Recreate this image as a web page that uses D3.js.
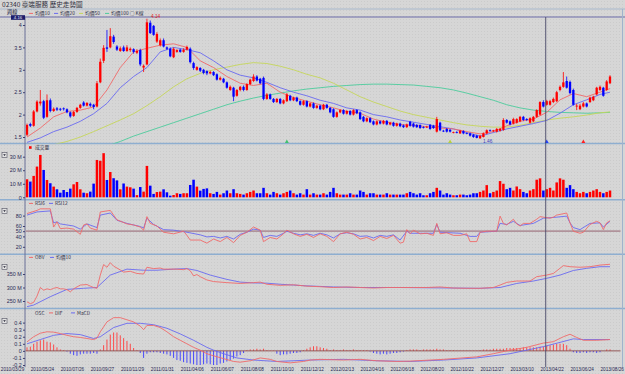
<!DOCTYPE html>
<html><head><meta charset="utf-8">
<script src="https://cdn.jsdelivr.net/npm/d3@7"></script>
<style>body{margin:0;background:#d5d5d5;} svg{display:block;}</style>
</head><body><svg id="c" width="625" height="374"></svg>
<script>
// ---------------- DATA ----------------
const titleText = "02340 臺端服務  歷史走勢圖";
const open = [1.55,1.79,1.75,2.07,2.25,2.30,1.95,2.32,2.08,2.14,2.13,2.14,2.12,2.05,1.97,2.06,2.15,2.27,2.20,2.24,2.22,2.18,2.72,3.20,3.50,3.50,3.74,3.52,3.42,3.50,3.42,3.44,3.46,3.38,3.44,3.05,3.12,4.05,3.98,3.63,3.55,3.66,3.50,3.47,3.28,3.40,3.45,3.40,3.45,3.47,3.15,3.00,3.04,3.00,2.97,2.92,2.95,2.90,2.78,2.80,2.72,2.55,2.60,2.42,2.55,2.62,2.55,2.68,2.75,2.85,2.80,2.82,2.35,2.45,2.35,2.28,2.35,2.25,2.30,2.42,2.32,2.38,2.30,2.22,2.30,2.18,2.25,2.15,2.20,2.12,2.22,2.15,2.12,1.95,2.05,2.10,2.02,2.08,2.00,2.10,2.05,1.95,1.85,1.92,1.85,1.78,1.85,1.80,1.86,1.78,1.82,1.75,1.80,1.76,1.72,1.84,1.80,1.77,1.77,1.72,1.72,1.77,1.75,1.62,1.82,1.64,1.68,1.66,1.60,1.61,1.58,1.63,1.59,1.58,1.55,1.53,1.47,1.50,1.58,1.65,1.63,1.62,1.64,1.66,1.88,1.85,1.80,1.82,1.85,1.95,1.90,1.82,1.85,1.95,2.00,2.28,2.22,2.22,2.28,2.30,2.55,2.62,2.75,2.73,2.55,2.18,2.12,2.18,2.25,2.28,2.32,2.45,2.55,2.60,2.55,2.70];
const high = [1.80,1.82,2.10,2.32,2.55,2.33,2.45,2.36,2.16,2.17,2.15,2.16,2.14,2.07,2.08,2.17,2.24,2.30,2.28,2.27,2.24,2.75,3.25,3.55,3.89,3.93,3.78,3.55,3.52,3.54,3.55,3.50,3.48,3.46,3.47,3.12,4.14,4.10,4.00,3.84,3.70,3.70,3.52,3.50,3.50,3.46,3.47,3.48,3.54,3.50,3.18,3.08,3.06,3.02,2.99,2.98,2.97,2.92,2.85,2.82,2.74,2.65,2.62,2.57,2.64,2.65,2.70,2.80,2.90,2.88,2.82,2.85,2.48,2.47,2.37,2.37,2.37,2.34,2.48,2.44,2.40,2.40,2.32,2.32,2.32,2.27,2.27,2.22,2.22,2.24,2.24,2.17,2.14,2.07,2.12,2.12,2.10,2.10,2.12,2.12,2.07,1.97,1.94,1.94,1.87,1.87,1.87,1.88,1.88,1.84,1.84,1.82,1.82,1.78,1.80,1.86,1.82,1.79,1.78,1.74,1.75,1.79,1.77,1.95,1.84,1.66,1.70,1.68,1.62,1.63,1.66,1.65,1.60,1.60,1.57,1.55,1.54,1.60,1.67,1.67,1.66,1.70,1.70,1.92,1.90,1.87,1.93,1.92,1.97,1.97,1.92,1.94,1.97,2.12,2.30,2.32,2.33,2.33,2.38,2.53,2.65,2.95,2.85,2.76,2.58,2.24,2.24,2.28,2.27,2.40,2.42,2.62,2.65,2.62,2.77,2.88];
const low = [1.52,1.72,1.73,2.05,2.20,1.90,1.93,2.05,2.06,2.08,2.08,2.09,2.03,1.93,1.95,2.04,2.13,2.18,2.18,2.17,2.12,2.16,2.70,3.15,3.40,3.48,3.58,3.42,3.40,3.40,3.40,3.40,3.36,3.35,3.08,2.95,3.10,3.80,3.76,3.60,3.52,3.50,3.44,3.28,3.26,3.38,3.38,3.38,3.43,3.14,3.00,2.98,2.95,2.90,2.88,2.90,2.86,2.76,2.76,2.70,2.58,2.53,2.30,2.40,2.52,2.52,2.53,2.66,2.73,2.74,2.68,2.32,2.33,2.33,2.26,2.26,2.23,2.23,2.28,2.30,2.30,2.28,2.20,2.20,2.16,2.16,2.13,2.13,2.10,2.10,2.13,2.03,1.93,1.93,2.03,2.00,2.00,1.98,1.98,2.01,1.88,1.83,1.83,1.81,1.76,1.76,1.78,1.78,1.76,1.76,1.73,1.73,1.72,1.70,1.70,1.73,1.71,1.70,1.68,1.69,1.70,1.66,1.68,1.60,1.63,1.61,1.60,1.60,1.58,1.58,1.57,1.56,1.56,1.51,1.48,1.47,1.46,1.49,1.56,1.62,1.61,1.60,1.62,1.64,1.80,1.76,1.78,1.80,1.83,1.86,1.86,1.80,1.83,1.93,1.98,2.16,2.20,2.20,2.26,2.28,2.52,2.60,2.58,2.45,2.20,2.10,2.10,2.16,2.16,2.26,2.30,2.43,2.53,2.40,2.53,2.68];
const close = [1.77,1.75,2.07,2.29,2.29,1.93,2.32,2.08,2.13,2.11,2.11,2.12,2.05,1.96,2.06,2.15,2.22,2.20,2.26,2.20,2.17,2.70,3.18,3.49,3.47,3.75,3.62,3.45,3.48,3.42,3.50,3.47,3.40,3.42,3.12,3.09,4.06,3.82,3.78,3.80,3.66,3.52,3.47,3.30,3.47,3.44,3.40,3.45,3.51,3.17,3.04,3.06,2.98,2.93,2.92,2.95,2.88,2.78,2.82,2.72,2.60,2.62,2.40,2.55,2.62,2.55,2.68,2.78,2.85,2.76,2.70,2.35,2.45,2.35,2.28,2.35,2.25,2.32,2.45,2.32,2.38,2.30,2.22,2.30,2.18,2.25,2.15,2.20,2.12,2.22,2.15,2.05,1.95,2.05,2.10,2.02,2.08,2.00,2.10,2.03,1.90,1.85,1.92,1.83,1.78,1.85,1.80,1.86,1.78,1.82,1.75,1.80,1.74,1.72,1.78,1.75,1.73,1.72,1.70,1.71,1.73,1.68,1.70,1.90,1.65,1.63,1.62,1.62,1.61,1.60,1.64,1.58,1.58,1.53,1.50,1.48,1.53,1.58,1.65,1.64,1.65,1.68,1.68,1.88,1.82,1.78,1.90,1.90,1.95,1.88,1.88,1.92,1.95,2.10,2.28,2.18,2.30,2.30,2.35,2.50,2.62,2.72,2.60,2.48,2.22,2.20,2.20,2.25,2.18,2.38,2.40,2.60,2.62,2.42,2.74,2.85];
// weekly volume, millions
const volume = [13.3,11.6,15.8,22.7,31.3,20.2,12.8,10.4,7.9,5.9,3.4,5.4,3.9,6.4,9.6,11.3,5.9,3.4,3.0,4.2,10.1,27.6,27.0,32.6,12.8,18.7,14.1,12.5,5.9,10.2,7.9,7.4,6.4,1.6,7.6,4.2,23.2,8.6,2.5,3.9,4.2,5.9,3.7,1.2,1.7,3.0,2.5,3.0,3.0,9.1,13.0,7.9,4.9,6.2,6.6,3,2.5,4,2,3,5,3,6,3,2.5,2,3,4,5,3,3,7,3,2,4,3,2,3,4,5,3,2,3,2,6,2,3,2,2,3,2,4,7,3,2,2,2,3,2,2,5,4,2,3,3,2,2,2,3,2,2,2,2,2,3,4,3,2,3,1.5,1.5,3,4,7,5,2,3,2,1.5,1.5,2,2,1.5,2,3,3,4,5,9,3,4,5,12,10,6,7,5,8,6,4,3,5,6,13,14,5,6,7,5,11,14,13,7,9,6,4,3,4,3,4,5,6,4,3,4,5];
// moving averages [week, price]
const ma10 = [[0,1.5],[4,1.7],[8,1.95],[12,2.07],[16,2.1],[20,2.17],[24,2.55],[28,3.05],[32,3.4],[36,3.48],[40,3.55],[44,3.58],[48,3.5],[52,3.2],[56,3.05],[60,2.85],[64,2.7],[68,2.65],[72,2.7],[76,2.5],[80,2.38],[84,2.3],[88,2.22],[92,2.15],[96,2.07],[100,2.03],[104,1.9],[108,1.83],[112,1.78],[116,1.76],[120,1.73],[124,1.7],[128,1.68],[132,1.62],[136,1.57],[140,1.62],[144,1.75],[148,1.85],[152,1.9],[156,2.05],[160,2.33],[164,2.47],[168,2.4],[172,2.5],[175,2.58]];
const ma20 = [[0,1.38],[4,1.48],[8,1.62],[12,1.72],[16,1.85],[20,2.02],[24,2.25],[28,2.6],[32,2.85],[36,3.05],[40,3.4],[44,3.5],[48,3.45],[52,3.38],[56,3.2],[60,3.0],[64,2.88],[68,2.82],[72,2.72],[76,2.6],[80,2.5],[84,2.42],[88,2.32],[92,2.25],[96,2.15],[100,2.1],[104,2.0],[108,1.95],[112,1.88],[116,1.83],[120,1.78],[124,1.73],[128,1.68],[132,1.6],[136,1.52],[140,1.6],[144,1.68],[148,1.74],[152,1.8],[156,1.87],[160,2.03],[164,2.22],[168,2.33],[172,2.45],[175,2.5]];
const ma50 = [[0,1.2],[4,1.27],[8,1.33],[12,1.4],[16,1.5],[20,1.62],[24,1.75],[28,1.88],[32,2.02],[36,2.2],[40,2.4],[44,2.62],[48,2.8],[52,2.92],[56,3.0],[60,3.06],[64,3.12],[68,3.16],[72,3.14],[76,3.08],[80,3.0],[84,2.9],[88,2.82],[92,2.7],[96,2.55],[100,2.4],[104,2.28],[108,2.18],[112,2.08],[116,2.0],[120,1.94],[124,1.88],[128,1.82],[132,1.77],[136,1.74],[140,1.72],[144,1.72],[148,1.76],[152,1.82],[156,1.88],[160,1.92],[164,1.95],[168,1.99],[172,2.04],[175,2.06]];
const ma100 = [[0,1.0],[4,1.03],[8,1.07],[12,1.12],[16,1.17],[20,1.22],[24,1.3],[28,1.4],[32,1.52],[36,1.62],[40,1.72],[44,1.82],[48,1.92],[52,2.02],[56,2.12],[60,2.22],[64,2.3],[68,2.37],[72,2.43],[76,2.48],[80,2.53],[84,2.57],[88,2.6],[92,2.63],[96,2.65],[100,2.67],[104,2.68],[108,2.68],[112,2.67],[116,2.66],[120,2.63],[124,2.6],[128,2.55],[132,2.48],[136,2.4],[140,2.32],[144,2.22],[148,2.15],[152,2.1],[156,2.07],[160,2.05],[164,2.04],[168,2.03],[172,2.04],[175,2.05]];
// RSI [week, value]
const rsi6 = [[0,84],[3,90],[4,93],[7,93],[8,58],[9,68],[10,55],[12,56],[14,54],[16,44],[17,62],[18,64],[19,56],[21,52],[22,87],[25,90],[26,81],[27,72],[30,64],[32,62],[34,58],[35,52],[36,78],[37,65],[39,60],[41,48],[44,45],[47,50],[48,42],[49,33],[52,33],[54,27],[56,35],[58,30],[60,38],[62,28],[64,42],[66,48],[68,58],[70,52],[71,30],[73,38],[75,35],[77,45],[78,52],[80,45],[82,40],[84,44],[86,38],[88,45],[90,40],[92,30],[94,45],[96,48],[98,44],[100,35],[102,38],[104,32],[106,40],[108,36],[110,42],[112,27],[113,29],[114,53],[115,45],[116,52],[118,45],[120,46],[122,42],[123,65],[124,45],[126,47],[128,42],[130,42],[132,45],[133,30],[135,30],[136,48],[138,50],[141,50],[142,79],[143,65],[144,62],[146,73],[147,64],[148,60],[149,65],[151,65],[153,73],[154,78],[155,77],[157,75],[158,77],[159,81],[162,85],[163,66],[164,50],[166,46],[167,48],[169,63],[171,69],[172,66],[173,53],[174,66],[175,70]];
const rsi12 = [[0,81],[3,87],[7,89],[8,66],[9,68],[10,64],[14,60],[16,54],[18,64],[21,57],[22,81],[25,85],[27,71],[30,65],[34,59],[35,56],[36,75],[38,63],[41,53],[44,52],[48,48],[52,43],[54,39],[56,40],[58,37],[60,40],[62,35],[64,44],[66,48],[68,54],[70,52],[71,38],[73,42],[75,40],[77,46],[78,50],[80,46],[82,43],[84,45],[86,42],[88,46],[90,43],[92,37],[94,45],[96,47],[98,45],[100,40],[102,41],[104,37],[106,42],[108,40],[110,43],[112,33],[114,50],[115,46],[118,46],[122,46],[123,63],[124,48],[130,46],[133,40],[135,40],[136,48],[141,50],[142,65],[144,63],[146,69],[148,61],[152,65],[155,75],[159,77],[162,79],[163,66],[164,57],[166,53],[169,65],[172,66],[173,58],[175,69]];
// OBV (millions) and its 10-week average
const obv = [[0,247],[1,240],[2,245],[3,268],[4,300],[5,290],[6,295],[7,292],[8,297],[9,300],[10,295],[11,295],[12,292],[13,284],[14,295],[16,309],[18,311],[19,305],[20,300],[21,297],[22,346],[23,385],[24,375],[25,392],[26,379],[28,365],[29,357],[31,360],[33,352],[35,350],[36,375],[38,370],[40,372],[41,368],[43,368],[45,368],[47,366],[48,370],[49,362],[50,343],[51,348],[52,340],[54,328],[56,322],[60,318],[64,315],[68,318],[70,320],[72,312],[76,308],[80,310],[84,305],[88,303],[92,300],[96,302],[100,300],[104,298],[108,300],[112,300],[116,300],[120,300],[124,302],[128,298],[132,297],[136,297],[140,300],[142,309],[144,319],[147,324],[151,324],[153,340],[156,346],[158,352],[161,381],[163,377],[166,375],[169,377],[172,383],[175,386]];
const obvMa = [[0,229],[2,235],[7,266],[12,293],[17,297],[21,300],[25,346],[30,368],[35,364],[39,364],[44,368],[48,370],[51,363],[55,346],[60,330],[64,320],[68,317],[72,316],[76,312],[80,309],[84,306],[88,304],[92,302],[96,301],[100,300],[112,300],[136,297],[142,300],[147,315],[152,324],[156,334],[160,346],[164,363],[168,371],[172,377],[175,377]];
// MACD
const dif = [[0,0.127],[2,0.2],[4,0.25],[6,0.27],[8,0.265],[10,0.245],[12,0.22],[14,0.2],[16,0.19],[18,0.175],[20,0.16],[21,0.18],[22,0.27],[24,0.41],[26,0.47],[28,0.47],[30,0.44],[32,0.41],[34,0.35],[35,0.3],[36,0.36],[38,0.36],[40,0.33],[42,0.27],[44,0.2],[46,0.15],[48,0.1],[50,0.05],[52,0.01],[54,-0.04],[56,-0.07],[59,-0.11],[62,-0.15],[64,-0.16],[67,-0.14],[70,-0.1],[73,-0.12],[75,-0.15],[79,-0.17],[83,-0.15],[85,-0.13],[88,-0.12],[95,-0.13],[100,-0.12],[105,-0.14],[111,-0.15],[115,-0.145],[125,-0.12],[135,-0.085],[140,-0.04],[145,0.01],[150,0.05],[155,0.11],[158,0.13],[161,0.2],[163,0.235],[165,0.19],[167,0.15],[171,0.15],[175,0.16]];
const macd = [[0,0.1],[4,0.16],[8,0.22],[12,0.245],[16,0.23],[20,0.175],[22,0.2],[26,0.33],[30,0.39],[34,0.39],[38,0.37],[42,0.32],[46,0.24],[50,0.15],[54,0.05],[56,0.01],[59,-0.04],[63,-0.1],[68,-0.13],[75,-0.15],[85,-0.13],[95,-0.12],[105,-0.14],[115,-0.15],[125,-0.13],[135,-0.1],[145,-0.04],[155,0.06],[160,0.12],[164,0.17],[167,0.16],[175,0.16]];
const osc = [
  0.05,0.06,0.1,0.13,0.15,0.16,0.13,0.12,0.09,0.05,
  0.02,0.01,-0.01,-0.04,-0.06,-0.07,-0.05,-0.04,-0.04,-0.04,
  -0.03,-0.04,0.02,0.08,0.16,0.23,0.26,0.26,0.22,0.18,
  0.14,0.1,0.04,0.01,-0.03,-0.1,-0.04,-0.02,-0.02,-0.02,
  -0.03,-0.04,-0.05,-0.07,-0.1,-0.13,-0.14,-0.16,-0.17,-0.18,
  -0.19,-0.2,-0.2,-0.19,-0.18,-0.19,-0.2,-0.2,-0.18,-0.17,
  -0.15,-0.13,-0.11,-0.08,-0.06,-0.03,0.01,0.02,0.02,0.03,
  0.02,0.03,0.01,0.005,0.005,-0.04,-0.06,-0.05,-0.05,-0.04,
  -0.03,-0.03,-0.02,0.01,0.03,0.05,0.065,0.065,0.05,0.04,
  0.03,0.01,0.02,0.01,0.01,0.02,0.01,0.01,0.02,0.01,
  0.01,0.01,0.01,-0.01,-0.03,-0.04,-0.05,-0.04,-0.05,-0.04,
  -0.03,-0.03,-0.02,-0.01,0.01,0.02,0.02,0.02,0.01,0.02,
  0.02,0.02,0.02,0.03,0.02,0.02,0.01,0.01,0.01,0.005,
  0.005,0.005,0.005,0.005,0.005,0.005,0.01,0.02,0.02,0.02,
  0.03,0.03,0.03,0.03,0.04,0.04,0.04,0.04,0.04,0.05,
  0.05,0.05,0.05,0.05,0.06,0.06,0.07,0.08,0.09,0.1,
  0.1,0.1,0.08,0.03,-0.02,-0.03,-0.03,-0.02,-0.03,-0.02,
  -0.02,-0.03,-0.02,0.0,0.02,0.02];
// axis labels
const tickWeeks = [-4.5,4.5,13.5,22.5,31.5,40.5,49.5,58.5,67.5,76.5,85.5,94.5,103.5,112.5,121.5,130.5,139.5,148.5,157.5,166.5,175.5];
const tickLabels = ["2010/03/29","2010/05/24","2010/07/26","2010/09/27","2010/11/29","2011/01/31","2011/04/06","2011/06/07","2011/08/08","2011/10/10","2011/12/12","2012/02/13","2012/04/16","2012/06/18","2012/08/20","2012/10/22","2012/12/27","2013/03/10","2013/04/22","2013/06/24","2013/08/26"];
const priceTicks = [1.5,2,2.5,3,3.5,4];
const volTicks = [0,10,20,30];
const rsiTicks = [20,40,50,60,80];
const obvTicks = [250,300,350];
const macdTicks = [-0.2,-0.1,0,0.1,0.2,0.3,0.4];
const peakWeek = 36, peakText = "4.14";
const lowWeek = 136, lowText = "1.46";
const cursorWeek = 155.7;
const signalWeeks = [78,127,156,167];
const signalKinds = ["g","y","b","r"];
const topValue = "4.16";

// ---------------- DRAW ----------------
const W=625,H=374, L=25, R=621;
const FONT='"Liberation Sans",Arial,sans-serif';
const CJK='"Noto Sans CJK TC","Noto Sans CJK SC",sans-serif';
const RED='#ff0000', BLUE='#0000ff';
const svg=d3.select('#c');
const defs=svg.append('defs');
const pat=defs.append('pattern').attr('id','dots').attr('width',3).attr('height',3).attr('patternUnits','userSpaceOnUse');
pat.append('rect').attr('width',3).attr('height',3).attr('fill','#d6d6d6');
pat.append('rect').attr('x',1).attr('y',1).attr('width',1).attr('height',1).attr('fill','#cbcbcb');
svg.append('rect').attr('width',W).attr('height',H).attr('fill','url(#dots)');

const x=d3.scaleLinear().domain([0,175]).range([27,610]);
const P={price:[17,143.5],vol:[150,199.5],rsi:[207,254],obv:[261,308.3],macd:[316,367]};
const yP=d3.scaleLinear().domain([1.5,4]).range([137,25]);
const yV=d3.scaleLinear().domain([0,30]).range([197.3,156.7]);
const yR=d3.scaleLinear().domain([20,80]).range([246.8,215.6]);
const yO=d3.scaleLinear().domain([250,350]).range([301,274]);
const yM=d3.scaleLinear().domain([-0.2,0.4]).range([365,322.6]);

Object.entries(P).forEach(([k,[t,b]])=>{
  defs.append('clipPath').attr('id','clip-'+k).append('rect').attr('x',L+0.5).attr('y',t).attr('width',R-L-1).attr('height',b-t);
});

// frame lines
const hl=(y,c,w)=>svg.append('line').attr('x1',0).attr('x2',W).attr('y1',y).attr('y2',y).attr('stroke',c).attr('stroke-width',w);
hl(9,'#a8b8cc',1);
hl(17,'#6a6aa8',1.2);
[143.5,199.8,254.2,308.5].forEach(y=>hl(y,'#8eaed0',1.6));
svg.append('line').attr('x1',L).attr('x2',L).attr('y1',17).attr('y2',367).attr('stroke','#6a7098').attr('stroke-width',1);
svg.append('line').attr('x1',R+1.5).attr('x2',R+1.5).attr('y1',9).attr('y2',367).attr('stroke','#9fb3cc').attr('stroke-width',1);

// title
svg.append('text').attr('x',2).attr('y',6.5).text(titleText).attr('font-family',CJK).attr('font-size',6.6).attr('fill','#303040');

// y axes
function yAxis(scale,ticks,fmt){
  const g=svg.append('g').attr('transform',`translate(${L},0)`)
    .call(d3.axisLeft(scale).tickValues(ticks).tickFormat(fmt).tickSize(2).tickPadding(1.2));
  g.select('.domain').remove();
  g.selectAll('line').attr('stroke','#404070');
  g.selectAll('text').attr('fill','#2a2a55').style('font-size','5.4px').style('font-family',FONT);
}
yAxis(yP,priceTicks,d=>String(d));
yAxis(yV,volTicks,d=>d===0?'0':d+' M');
yAxis(yR,rsiTicks,d=>String(d));
yAxis(yO,obvTicks,d=>d+' M');
yAxis(yM,macdTicks,d=>String(d));

// top value box
svg.append('rect').attr('x',11).attr('y',15.2).attr('width',14).attr('height',4.6).attr('fill','#1c1c6a');
svg.append('text').attr('x',18).attr('y',19).attr('text-anchor','middle').text(topValue).attr('font-family',FONT).attr('font-size',4.3).attr('fill','#e8e8ff');

// x axis
const gx=svg.append('g').attr('transform','translate(0,366)')
  .call(d3.axisBottom(x).tickValues(tickWeeks).tickFormat((d,i)=>tickLabels[i]).tickSize(0).tickPadding(1.5));
gx.select('.domain').remove();
gx.selectAll('text').attr('fill','#2a2a55').style('font-size','4.7px').style('font-family',FONT);

// legends
function legendItem(xp,y,color,label,kind){
  if(kind==='sq') svg.append('rect').attr('x',xp).attr('y',y-3).attr('width',2.6).attr('height',2.6).attr('fill',color);
  else if(color) svg.append('line').attr('x1',xp).attr('x2',xp+4).attr('y1',y-1.6).attr('y2',y-1.6).attr('stroke',color).attr('stroke-width',1);
  svg.append('text').attr('x',xp+ (color?6:0)).attr('y',y).text(label).attr('font-family',CJK).attr('font-size',4.8).attr('fill','#303048');
}
svg.append('text').attr('x',7).attr('y',14.3).text('週線').attr('font-family',CJK).attr('font-size',5.2).attr('fill','#202040');
legendItem(29,15,'#f06a6a','均價10');
legendItem(54,15,'#6a6af0','均價20');
legendItem(79,15,'#c5d65a','均價50');
legendItem(105,15,'#4ccc9c','均價100 ○ K線');
legendItem(29,149.2,RED,'成交量','sq');
legendItem(29,205,'#f06a6a','RSI6');
legendItem(49,205,'#6a6af0','RSI12');
legendItem(29,259,'#f06a6a','OBV');
legendItem(50,259,'#6a6af0','均價10');
legendItem(35,314.5,null,'OSC');
legendItem(49,314.5,'#f06a6a','DIF');
legendItem(71,314.5,'#6a6af0','MaCD');

// small panel buttons
[152.5,208.5,264.5,318.5].forEach(y=>{
  svg.append('rect').attr('x',2).attr('y',y).attr('width',5).attr('height',5).attr('fill','#e4e4e4').attr('stroke','#505060').attr('stroke-width',0.6);
  svg.append('path').attr('d',`M3.2,${y+1.8}L5.8,${y+1.8}L4.5,${y+3.6}Z`).attr('fill','#202030');
});

// ---- price panel
const gp=svg.append('g').attr('clip-path','url(#clip-price)');
const lineP=d3.line().x(d=>x(d[0])).y(d=>yP(d[1]));
[[ma100,'#4ccc9c'],[ma50,'#c5d65a'],[ma20,'#6a6af0'],[ma10,'#f06a6a']].forEach(([d,c])=>{
  gp.append('path').datum(d).attr('d',lineP).attr('fill','none').attr('stroke',c).attr('stroke-width',0.9);
});
const idx=d3.range(close.length);
const up=i=>close[i]>=open[i];
gp.selectAll('.wick').data(idx).join('line')
  .attr('x1',i=>x(i)).attr('x2',i=>x(i)).attr('y1',i=>yP(high[i])).attr('y2',i=>yP(low[i]))
  .attr('stroke',i=>up(i)?RED:BLUE).attr('stroke-width',0.8);
gp.selectAll('.body').data(idx).join('rect')
  .attr('x',i=>x(i)-1.15).attr('width',2.3)
  .attr('y',i=>yP(Math.max(open[i],close[i])))
  .attr('height',i=>Math.max(0.8,Math.abs(yP(open[i])-yP(close[i]))))
  .attr('fill',i=>up(i)?RED:BLUE);
svg.append('text').attr('x',x(peakWeek)+4).attr('y',yP(high[peakWeek])-1).text(peakText).attr('font-family',FONT).attr('font-size',4.8).attr('fill','#e02020');
svg.append('text').attr('x',x(lowWeek)+3).attr('y',yP(low[lowWeek])+4.5).text(lowText).attr('font-family',FONT).attr('font-size',4.8).attr('fill','#4040c0');
const sigColor={g:'#40c070',y:'#b8d040',b:'#2040ff',r:'#ff2020'};
signalWeeks.forEach((w,k)=>{
  const cx=x(w), by=143;
  svg.append('path').attr('d',`M${cx-2},${by}L${cx+2},${by}L${cx},${by-3.5}Z`).attr('fill',sigColor[signalKinds[k]]);
});

// ---- volume
const gv=svg.append('g').attr('clip-path','url(#clip-vol)');
gv.selectAll('rect').data(idx).join('rect')
  .attr('x',i=>x(i)-1.25).attr('width',2.5)
  .attr('y',i=>yV(volume[i])).attr('height',i=>yV(0)-yV(volume[i]))
  .attr('fill',i=>up(i)?RED:BLUE);

// ---- RSI
const gr=svg.append('g').attr('clip-path','url(#clip-rsi)');
gr.append('line').attr('x1',L).attr('x2',R).attr('y1',yR(50)).attr('y2',yR(50)).attr('stroke','#b0939b').attr('stroke-width',1.8);
const lineR=d3.line().x(d=>x(d[0])).y(d=>yR(d[1]));
gr.append('path').datum(rsi12).attr('d',lineR).attr('fill','none').attr('stroke','#6a6af0').attr('stroke-width',0.9);
gr.append('path').datum(rsi6).attr('d',lineR).attr('fill','none').attr('stroke','#f06a6a').attr('stroke-width',0.9);

// ---- OBV
const go=svg.append('g').attr('clip-path','url(#clip-obv)');
const lineO=d3.line().x(d=>x(d[0])).y(d=>yO(d[1]));
go.append('path').datum(obvMa).attr('d',lineO).attr('fill','none').attr('stroke','#6a6af0').attr('stroke-width',0.9);
go.append('path').datum(obv).attr('d',lineO).attr('fill','none').attr('stroke','#f06a6a').attr('stroke-width',0.9);

// ---- MACD
const gm=svg.append('g').attr('clip-path','url(#clip-macd)');
gm.selectAll('line.osc').data(idx).join('line').attr('class','osc')
  .attr('x1',i=>x(i)).attr('x2',i=>x(i)).attr('y1',yM(0)).attr('y2',i=>yM(osc[i]))
  .attr('stroke',i=>osc[i]>=0?'#ff3a3a':'#3a3aff').attr('stroke-width',0.9);
gm.append('line').attr('x1',L).attr('x2',R).attr('y1',yM(0)).attr('y2',yM(0)).attr('stroke','#8a4a4a').attr('stroke-width',0.9);
const lineM=d3.line().x(d=>x(d[0])).y(d=>yM(d[1]));
gm.append('path').datum(macd).attr('d',lineM).attr('fill','none').attr('stroke','#6a6af0').attr('stroke-width',0.9);
gm.append('path').datum(dif).attr('d',lineM).attr('fill','none').attr('stroke','#f06a6a').attr('stroke-width',0.9);

// cursor
svg.append('line').attr('x1',x(cursorWeek)).attr('x2',x(cursorWeek)).attr('y1',17).attr('y2',367).attr('stroke','#4a4a6a').attr('stroke-width',0.9);
</script></body></html>
